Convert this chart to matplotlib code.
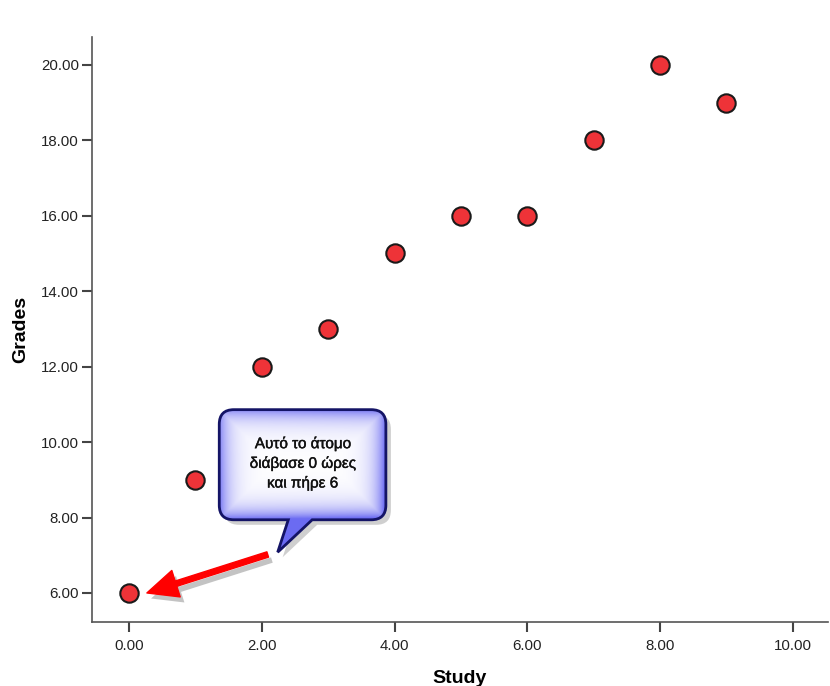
import numpy as np
import matplotlib
matplotlib.use("Agg")
import matplotlib.pyplot as plt
from matplotlib.path import Path
from matplotlib.patches import PathPatch
import matplotlib.patheffects as pe
import matplotlib.transforms as mtransforms

study = [0, 1, 2, 3, 4, 5, 6, 7, 8, 9]
grades = [6, 9, 12, 13, 15, 16, 16, 18, 20, 19]
xticks = [0, 2, 4, 6, 8, 10]
yticks = [6, 8, 10, 12, 14, 16, 18, 20]
note = "Αυτό το άτομο\nδιάβασε 0 ώρες\nκαι πήρε 6"

plt.rcParams["font.family"] = ["Liberation Sans", "DejaVu Sans"]

fig = plt.figure(figsize=(8.3, 6.86), dpi=100)
ax = fig.add_axes([92/830, 1-622/686, (828-92)/830, (622-37)/686])
XL, YL = (-0.557, 10.53), (5.23, 20.74)
ax.set_xlim(*XL)
ax.set_ylim(*YL)

ax.scatter(study, grades, s=175, facecolor="#EE3338", edgecolor="#1a1a1a", linewidth=1.5, zorder=3)

ax.set_xticks(xticks)
ax.set_xticklabels([f"{v:.2f}" for v in xticks])
ax.set_yticks(yticks)
ax.set_yticklabels([f"{v:.2f}" for v in yticks])
for s in ["top", "right"]:
    ax.spines[s].set_visible(False)
for s in ["left", "bottom"]:
    ax.spines[s].set_color("#555555")
    ax.spines[s].set_linewidth(1.2)
ax.tick_params(direction="out", length=7.5, width=1.5, color="#444444",
               labelsize=10.8, labelcolor="#222222")
ax.tick_params(axis="x", pad=5)
ax.tick_params(axis="y", pad=2)
ax.set_xlabel("Study", fontsize=14, fontweight="bold", labelpad=12)
ax.set_ylabel("Grades", fontsize=14, fontweight="bold", labelpad=8)

# callout bubble (data coordinates)
x0, x1, y0, y1 = 1.36, 3.87, 7.94, 10.86
r = 0.22
ry = r * 66.4 / 37.64
tx0, tx1 = 2.40, 2.76
tip = (2.24, 7.08)
verts = [
    (x0 + r, y1), (x1 - r, y1), (x1, y1), (x1, y1 - ry),
    (x1, y0 + ry), (x1, y0), (x1 - r, y0),
    (tx1, y0), tip, (tx0, y0),
    (x0 + r, y0), (x0, y0), (x0, y0 + ry),
    (x0, y1 - ry), (x0, y1), (x0 + r, y1), (x0 + r, y1),
]
codes = [Path.MOVETO, Path.LINETO, Path.CURVE3, Path.CURVE3,
         Path.LINETO, Path.CURVE3, Path.CURVE3,
         Path.LINETO, Path.LINETO, Path.LINETO,
         Path.LINETO, Path.CURVE3, Path.CURVE3,
         Path.LINETO, Path.CURVE3, Path.CURVE3, Path.CLOSEPOLY]
path = Path(verts, codes)

shadow = PathPatch(path, facecolor="#777777", edgecolor="none", alpha=0.35, zorder=4,
                   transform=ax.transData + mtransforms.ScaledTranslation(5/100, -5/100, fig.dpi_scale_trans))
ax.add_patch(shadow)

bubble = PathPatch(path, facecolor="none", edgecolor="#141466", linewidth=2, zorder=6)
ax.add_patch(bubble)

# gradient fill: blue near edges, white inside
sx, sy = 66.4, 37.64
nx, ny = 240, 200
gx = np.linspace(x0, x1, nx)
gy = np.linspace(tip[1], y1, ny)
GX, GY = np.meshgrid(gx, gy)
dist = np.minimum.reduce([(GX - x0) * sx, (x1 - GX) * sx, (GY - y0) * sy, (y1 - GY) * sy])
dist = np.clip(dist, 0, None)
t = np.exp(-dist / 11.0)
br = np.clip(((GX - x0) / (x1 - x0) + (y1 - GY) / (y1 - y0)) / 2, 0, 1)
white = np.array([1.0, 1.0, 1.0])
blue = np.array([0.42, 0.42, 0.95])
t = np.clip(t * (0.8 + 0.35 * br), 0, 1)
img = white[None, None, :] * (1 - t[..., None]) + blue[None, None, :] * t[..., None]
im = ax.imshow(img, extent=[x0, x1, tip[1], y1], origin="lower", aspect="auto", zorder=5,
               interpolation="bilinear")
im.set_clip_path(PathPatch(path, transform=ax.transData, facecolor="none"))
ax.set_xlim(*XL)
ax.set_ylim(*YL)

ax.text((x0 + x1) / 2, (y0 + y1) / 2 + 0.03, note, ha="center", va="center",
        fontsize=11, color="#111111", zorder=7, linespacing=1.45,
        path_effects=[pe.withStroke(linewidth=0.3, foreground="#111111")])

# red arrow
ax.annotate("", xy=(0.27, 6.0), xytext=(2.09, 7.02),
            arrowprops=dict(arrowstyle="simple,head_length=1.1,head_width=1.0,tail_width=0.2",
                            mutation_scale=20, facecolor="#FF0000", edgecolor="#FF0000",
                            shrinkA=0, shrinkB=0,
                            path_effects=[pe.SimplePatchShadow(offset=(3, -4), shadow_rgbFace="#888888", alpha=0.5),
                                          pe.Normal()]),
            zorder=5)

fig.savefig("out.png", dpi=100)
